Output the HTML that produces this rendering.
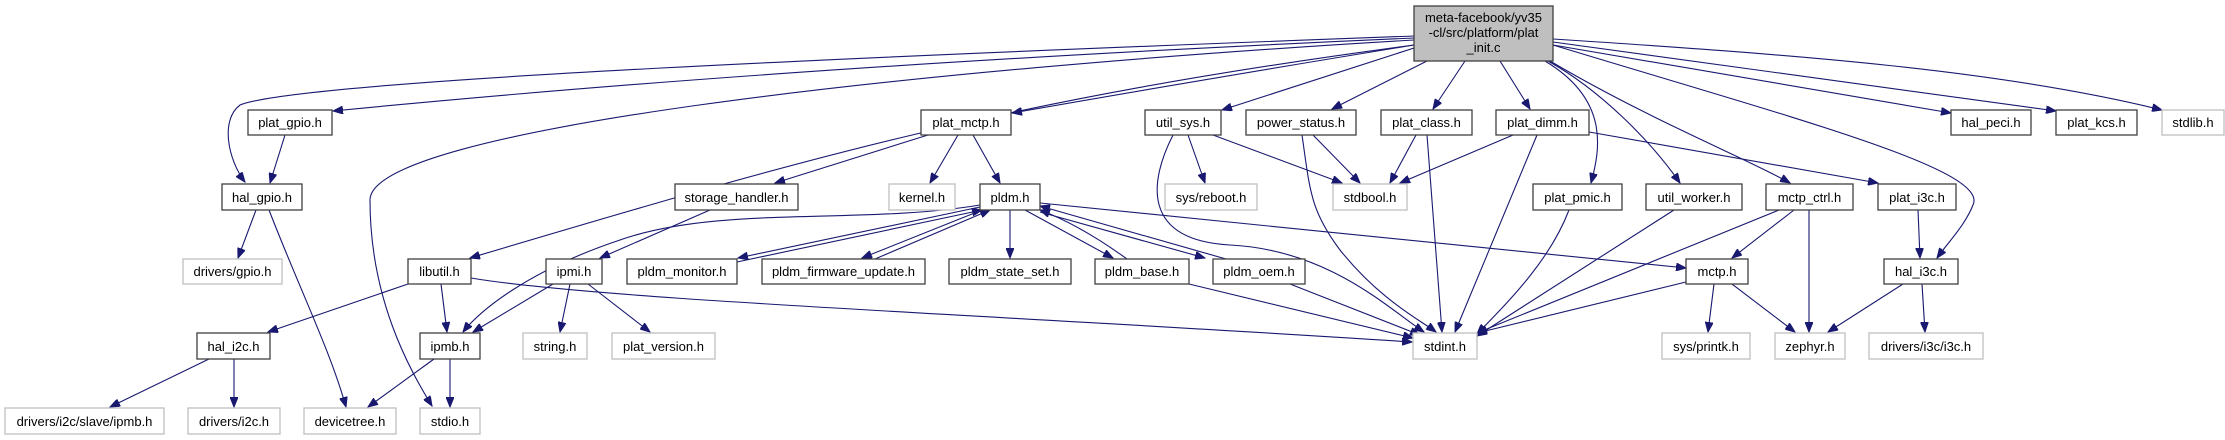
<!DOCTYPE html>
<html><head><meta charset="utf-8"><style>
html,body{margin:0;padding:0;background:#fff;}
svg{display:block;}
text{font-family:"Liberation Sans",Arial,sans-serif;font-size:13px;fill:#000;}
.n{fill:#fff;stroke:#404040;stroke-width:1.3;}
.g{fill:#fff;stroke:#bfbfbf;stroke-width:1.3;}
.e{fill:none;stroke:#191970;stroke-width:1.1;marker-end:url(#a);}
</style></head><body>
<svg width="2225" height="440" viewBox="0 0 2225 440" xmlns="http://www.w3.org/2000/svg">
<defs><marker id="a" markerUnits="userSpaceOnUse" markerWidth="11" markerHeight="8" refX="10" refY="4" orient="auto"><path d="M0,0 L10,4 L0,8 z" fill="#191970" stroke="#191970"/></marker></defs>
<g>
<path class="e" d="M1414,36 C900,55 300,80 240,105 C220,120 228,160 245,182"/>
<path class="e" d="M1414,38 Q800,65 333,111"/>
<path class="e" d="M1414,40 C900,70 370,130 370,200 C370,300 410,370 432,406"/>
<path class="e" d="M1414,45 C1000,100 800,160 470,258"/>
<path class="e" d="M1414,45 Q1200,80 1012,113"/>
<path class="e" d="M1414,48 L1222,110"/>
<path class="e" d="M1427,61 L1332,109"/>
<path class="e" d="M1465,61 L1433,109"/>
<path class="e" d="M1500,61 L1530,109"/>
<path class="e" d="M1545,61 C1610,100 1600,150 1591,183"/>
<path class="e" d="M1548,61 C1600,90 1650,140 1680,183"/>
<path class="e" d="M1550,61 C1650,120 1750,160 1790,183"/>
<path class="e" d="M1553,45 C1800,120 1990,170 1973,205 C1965,225 1950,240 1937,258"/>
<path class="e" d="M1553,45 L1951,113"/>
<path class="e" d="M1553,42 L2056,111"/>
<path class="e" d="M1553,39 C1800,55 2000,70 2162,110"/>
<path class="e" d="M285,135 L270,183"/>
<path class="e" d="M256,210 L238,258"/>
<path class="e" d="M269,210 C300,290 330,350 346,407"/>
<path class="e" d="M408,284 L268,332"/>
<path class="e" d="M441,284 L447,332"/>
<path class="e" d="M471,278 C600,300 1000,315 1412,342"/>
<path class="e" d="M553,284 L473,332"/>
<path class="e" d="M570,284 L560,332"/>
<path class="e" d="M588,284 L650,332"/>
<path class="e" d="M209,359 L110,407"/>
<path class="e" d="M234,359 L234,407"/>
<path class="e" d="M434,359 L368,407"/>
<path class="e" d="M450,359 L450,407"/>
<path class="e" d="M928,135 L775,183"/>
<path class="e" d="M958,135 L930,183"/>
<path class="e" d="M973,135 L1000,183"/>
<path class="e" d="M710,210 L600,258"/>
<path class="e" d="M980,205 C860,225 720,205 620,240 C530,270 480,310 463,332"/>
<path class="e" d="M980,207 L738,258"/>
<path class="e" d="M737,262 L982,210"/>
<path class="e" d="M982,210 L862,258"/>
<path class="e" d="M875,259 L990,210"/>
<path class="e" d="M1010,210 L1010,258"/>
<path class="e" d="M1025,210 L1113,258"/>
<path class="e" d="M1127,259 Q1080,225 1040,210"/>
<path class="e" d="M1040,212 L1205,258"/>
<path class="e" d="M1226,259 L1040,206"/>
<path class="e" d="M1040,203 L1686,268"/>
<path class="e" d="M1188,135 L1205,183"/>
<path class="e" d="M1213,135 L1342,183"/>
<path class="e" d="M1173,135 C1150,180 1140,240 1230,245 C1330,250 1390,310 1424,332"/>
<path class="e" d="M1313,135 L1360,183"/>
<path class="e" d="M1302,135 C1310,190 1310,210 1340,250 C1380,300 1420,320 1436,332"/>
<path class="e" d="M1416,135 L1390,183"/>
<path class="e" d="M1427,135 L1442,332"/>
<path class="e" d="M1513,135 L1400,183"/>
<path class="e" d="M1537,135 L1455,332"/>
<path class="e" d="M1589,132 L1878,183"/>
<path class="e" d="M1189,284 L1413,338"/>
<path class="e" d="M1290,284 L1420,335"/>
<path class="e" d="M1569,210 C1550,260 1510,300 1477,334"/>
<path class="e" d="M1674,210 L1477,336"/>
<path class="e" d="M1779,210 L1477,333"/>
<path class="e" d="M1794,210 L1732,258"/>
<path class="e" d="M1809,210 L1809,332"/>
<path class="e" d="M1918,210 L1920,258"/>
<path class="e" d="M1686,282 L1477,333"/>
<path class="e" d="M1714,284 L1708,332"/>
<path class="e" d="M1732,284 L1795,332"/>
<path class="e" d="M1903,284 L1828,332"/>
<path class="e" d="M1922,284 L1925,332"/>
</g>
<rect x="1414" y="6" width="139" height="55" fill="#bfbfbf" stroke="#404040" stroke-width="1.3"/>
<text x="1483.5" y="22" text-anchor="middle">meta-facebook/yv35</text>
<text x="1483.5" y="37" text-anchor="middle">-cl/src/platform/plat</text>
<text x="1483.5" y="52" text-anchor="middle">_init.c</text>
<g text-anchor="middle">
<rect class="n" x="248" y="110" width="84" height="25"/><text x="290" y="127">plat_gpio.h</text>
<rect class="n" x="921" y="110" width="90" height="25"/><text x="966" y="127">plat_mctp.h</text>
<rect class="n" x="1145" y="110" width="76" height="25"/><text x="1183" y="127">util_sys.h</text>
<rect class="n" x="1246" y="110" width="110" height="25"/><text x="1301" y="127">power_status.h</text>
<rect class="n" x="1381" y="110" width="91" height="25"/><text x="1426.5" y="127">plat_class.h</text>
<rect class="n" x="1496" y="110" width="93" height="25"/><text x="1542.5" y="127">plat_dimm.h</text>
<rect class="n" x="1951" y="110" width="80" height="25"/><text x="1991" y="127">hal_peci.h</text>
<rect class="n" x="2056" y="110" width="81" height="25"/><text x="2096.5" y="127">plat_kcs.h</text>
<rect class="g" x="2162" y="110" width="62" height="25"/><text x="2193" y="127">stdlib.h</text>

<rect class="n" x="222" y="184" width="80" height="26"/><text x="262" y="202">hal_gpio.h</text>
<rect class="n" x="675" y="184" width="123" height="26"/><text x="736.5" y="202">storage_handler.h</text>
<rect class="g" x="889" y="184" width="66" height="26"/><text x="922" y="202">kernel.h</text>
<rect class="n" x="980" y="184" width="60" height="26"/><text x="1010" y="202">pldm.h</text>
<rect class="g" x="1165" y="184" width="92" height="26"/><text x="1211" y="202">sys/reboot.h</text>
<rect class="g" x="1333" y="184" width="74" height="26"/><text x="1370" y="202">stdbool.h</text>
<rect class="n" x="1533" y="184" width="89" height="26"/><text x="1577.5" y="202">plat_pmic.h</text>
<rect class="n" x="1646" y="184" width="96" height="26"/><text x="1694" y="202">util_worker.h</text>
<rect class="n" x="1766" y="184" width="87" height="26"/><text x="1809.5" y="202">mctp_ctrl.h</text>
<rect class="n" x="1878" y="184" width="78" height="26"/><text x="1917" y="202">plat_i3c.h</text>

<rect class="g" x="183" y="259" width="99" height="25"/><text x="232.5" y="276">drivers/gpio.h</text>
<rect class="n" x="408" y="259" width="63" height="25"/><text x="439.5" y="276">libutil.h</text>
<rect class="n" x="546" y="259" width="56" height="25"/><text x="574" y="276">ipmi.h</text>
<rect class="n" x="627" y="259" width="110" height="25"/><text x="682" y="276">pldm_monitor.h</text>
<rect class="n" x="762" y="259" width="163" height="25"/><text x="843.5" y="276">pldm_firmware_update.h</text>
<rect class="n" x="949" y="259" width="122" height="25"/><text x="1010" y="276">pldm_state_set.h</text>
<rect class="n" x="1095" y="259" width="94" height="25"/><text x="1142" y="276">pldm_base.h</text>
<rect class="n" x="1213" y="259" width="92" height="25"/><text x="1259" y="276">pldm_oem.h</text>
<rect class="n" x="1686" y="259" width="62" height="25"/><text x="1717" y="276">mctp.h</text>
<rect class="n" x="1884" y="259" width="74" height="25"/><text x="1921" y="276">hal_i3c.h</text>

<rect class="n" x="197" y="333" width="73" height="26"/><text x="233.5" y="351">hal_i2c.h</text>
<rect class="n" x="420" y="333" width="60" height="26"/><text x="450" y="351">ipmb.h</text>
<rect class="g" x="523" y="333" width="64" height="26"/><text x="555" y="351">string.h</text>
<rect class="g" x="612" y="333" width="103" height="26"/><text x="663.5" y="351">plat_version.h</text>
<rect class="g" x="1413" y="333" width="64" height="26"/><text x="1445" y="351">stdint.h</text>
<rect class="g" x="1662" y="333" width="88" height="26"/><text x="1706" y="351">sys/printk.h</text>
<rect class="g" x="1775" y="333" width="70" height="26"/><text x="1810" y="351">zephyr.h</text>
<rect class="g" x="1869" y="333" width="114" height="26"/><text x="1926" y="351">drivers/i3c/i3c.h</text>

<rect class="g" x="5" y="408" width="159" height="26"/><text x="84.5" y="426">drivers/i2c/slave/ipmb.h</text>
<rect class="g" x="188" y="408" width="92" height="26"/><text x="234" y="426">drivers/i2c.h</text>
<rect class="g" x="304" y="408" width="92" height="26"/><text x="350" y="426">devicetree.h</text>
<rect class="g" x="420" y="408" width="60" height="26"/><text x="450" y="426">stdio.h</text>
</g>
</svg>
</body></html>
